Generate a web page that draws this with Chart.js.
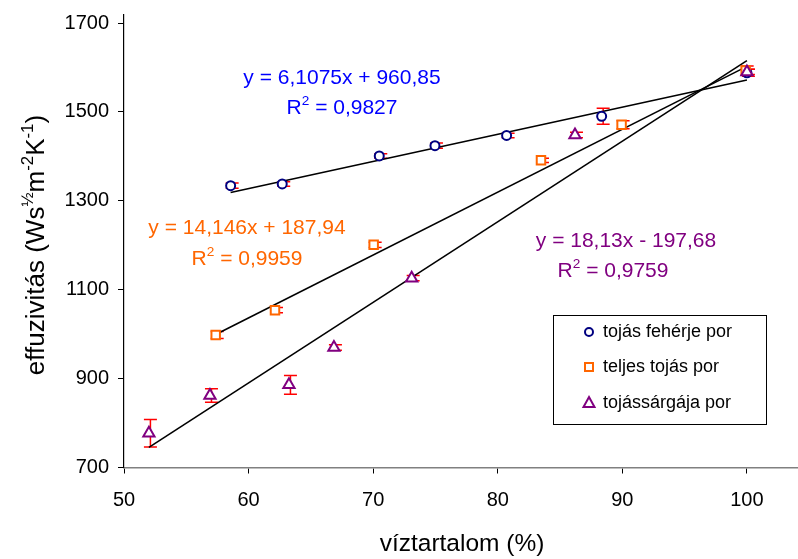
<!DOCTYPE html>
<html>
<head>
<meta charset="utf-8">
<script src="https://cdn.jsdelivr.net/npm/chart.js@4.4.1/dist/chart.umd.min.js"></script>
<style>
  html, body { margin: 0; padding: 0; background: #fff; }
  #wrap { width: 798px; height: 559px; }
</style>
</head>
<body>
<div id="wrap"><canvas id="c" width="798" height="559"></canvas></div>
<script>
// ---- data ----
const xTicks = [50, 60, 70, 80, 90, 100];
const yTicks = [700, 900, 1100, 1300, 1500, 1700];

const seriesNames = ['tojás fehérje por', 'teljes tojás por', 'tojássárgája por'];

const feherjeX   = [58.56, 62.7, 70.49, 74.96, 80.71, 88.34, 100.0];
const feherjeY   = [1334, 1338, 1401, 1424, 1447, 1490, 1588];
const feherjeErr = [6, 5, 5, 6, 5, 18, 8];

const teljesX   = [57.36, 62.12, 70.04, 83.47, 89.94, 99.9];
const teljesY   = [998, 1054, 1201, 1391, 1471, 1593];
const teljesErr = [8, 6, 6, 5, 9, 10];

const sargajaX   = [52.0, 56.9, 63.24, 66.85, 73.09, 86.2, 100.0];
const sargajaY   = [777, 862, 886, 970, 1126, 1448, 1590];
const sargajaErr = [31, 15, 21, 6, 6, 6, 6];

// trendline end points
const trendFeherjeX = [58.56, 100];
const trendFeherjeY = [1318.5, 1571.6];
const trendTeljesX  = [57.36, 100];
const trendTeljesY  = [999.3, 1602.5];
const trendSargajaX = [52, 100];
const trendSargajaY = [745.1, 1615.3];

const eqTexts = [
  { eq: 'y = 6,1075x + 960,85', r2: '0,9827' },
  { eq: 'y = 14,146x + 187,94', r2: '0,9959' },
  { eq: 'y = 18,13x - 197,68',  r2: '0,9759' }
];

// ---- styles ----
const FONT = '"Liberation Sans", Arial, sans-serif';
const colBlue = '#000080', colOrange = '#FF6600', colPurple = '#800080', colErr = '#FF0000';

function pts(xs, ys) { return xs.map((x, i) => ({ x: x, y: ys[i] })); }

const markerSets = [
  { label: seriesNames[0], data: pts(feherjeX, feherjeY), err: feherjeErr, pointStyle: 'circle', pointRadius: 4.5, borderColor: colBlue, order: 2 },
  { label: seriesNames[1], data: pts(teljesX, teljesY), err: teljesErr, pointStyle: 'rect', pointRadius: 6, borderColor: colOrange, order: 1 },
  { label: seriesNames[2], data: pts(sargajaX, sargajaY), err: sargajaErr, pointStyle: 'triangle', pointRadius: 6.5, borderColor: colPurple, order: 0 }
].map(d => Object.assign(d, {
  showLine: false, backgroundColor: '#ffffff', pointBorderWidth: 2, pointBackgroundColor: '#ffffff',
  pointBorderColor: d.borderColor, isMarker: true
}));

const lineSets = [
  pts(trendFeherjeX, trendFeherjeY),
  pts(trendTeljesX, trendTeljesY),
  pts(trendSargajaX, trendSargajaY)
].map(p => ({ data: p, showLine: true, pointRadius: 0, borderColor: '#000', borderWidth: 1.6, fill: false, order: 5 }));

// error bars drawn beneath everything
const errorBars = {
  id: 'errorBars',
  beforeDatasetsDraw(chart) {
    const ctx = chart.ctx, xs = chart.scales.x, ys = chart.scales.y;
    ctx.save();
    ctx.strokeStyle = colErr; ctx.lineWidth = 1.5;
    chart.data.datasets.forEach(ds => {
      if (!ds.isMarker) return;
      ds.data.forEach((p, i) => {
        const e = ds.err[i];
        const px = xs.getPixelForValue(p.x) + 1.5;
        const top = ys.getPixelForValue(p.y + e), bot = ys.getPixelForValue(p.y - e);
        const w = 6.5;
        ctx.beginPath();
        ctx.moveTo(px, top); ctx.lineTo(px, bot);
        ctx.moveTo(px - w, top); ctx.lineTo(px + w, top);
        ctx.moveTo(px - w, bot); ctx.lineTo(px + w, bot);
        ctx.stroke();
      });
    });
    ctx.restore();
  }
};

function richWidth(ctx, parts, size) {
  let w = 0;
  parts.forEach(p => { ctx.font = (p.sup ? size * 0.65 : size) + 'px ' + FONT; w += ctx.measureText(p.t).width; });
  return w;
}
function drawRich(ctx, parts, cx, y, size, color) {
  const w = richWidth(ctx, parts, size);
  let x = cx - w / 2;
  ctx.fillStyle = color; ctx.textAlign = 'left'; ctx.textBaseline = 'alphabetic';
  parts.forEach(p => {
    ctx.font = (p.sup ? size * 0.65 : size) + 'px ' + FONT;
    ctx.fillText(p.t, x, p.sup ? y - size * 0.42 : y);
    x += ctx.measureText(p.t).width;
  });
}

const texts = {
  id: 'texts',
  afterDraw(chart) {
    const ctx = chart.ctx;
    ctx.save();
    // equations
    const eqPos = [
      { x: 342, y: 84, ry: 114, c: '#0000FF' },
      { x: 247, y: 234, ry: 265, c: '#FF6600' },
      { x: 626, y: 247, ry: 277, rx: 613, c: '#800080' }
    ];
    eqTexts.forEach((t, i) => {
      const p = eqPos[i];
      drawRich(ctx, [{ t: t.eq }], p.x, p.y, 21, p.c);
      drawRich(ctx, [{ t: 'R' }, { t: '2', sup: true }, { t: ' = ' + t.r2 }], p.rx || p.x, p.ry, 21, p.c);
    });
    // x axis title
    drawRich(ctx, [{ t: 'víztartalom (%)' }], 462, 551, 24.5, '#000');
    // y axis title
    ctx.save();
    ctx.translate(44, 245);
    ctx.rotate(-Math.PI / 2);
    drawRich(ctx, [{ t: 'effuzivitás (Ws' }, { t: '½', sup: true }, { t: 'm' }, { t: '-2', sup: true }, { t: 'K' }, { t: '-1', sup: true }, { t: ')' }], 0, 0, 26, '#000');
    ctx.restore();
    // legend
    const lx = 553, ly = 315, lw = 213, lh = 109;
    ctx.fillStyle = '#fff'; ctx.fillRect(lx, ly, lw, lh);
    ctx.strokeStyle = '#000'; ctx.lineWidth = 1; ctx.strokeRect(lx + 0.5, ly + 0.5, lw, lh);
    const rows = [332, 367, 403];
    markerSets.forEach((ds, i) => {
      const mx = 589, my = rows[i];
      ctx.strokeStyle = ds.borderColor; ctx.lineWidth = 2; ctx.fillStyle = '#fff';
      ctx.beginPath();
      if (ds.pointStyle === 'circle') { ctx.arc(mx, my, 4, 0, Math.PI * 2); }
      else if (ds.pointStyle === 'rect') { ctx.rect(mx - 4, my - 4, 8, 8); }
      else { ctx.moveTo(mx, my - 6); ctx.lineTo(mx + 5.5, my + 4); ctx.lineTo(mx - 5.5, my + 4); ctx.closePath(); }
      ctx.fill(); ctx.stroke();
      ctx.fillStyle = '#000'; ctx.font = '18px ' + FONT; ctx.textAlign = 'left'; ctx.textBaseline = 'middle';
      ctx.fillText(ds.label, 603, my);
    });
    ctx.restore();
  }
};

new Chart(document.getElementById('c'), {
  type: 'scatter',
  data: { datasets: markerSets.concat(lineSets) },
  options: {
    responsive: false,
    animation: false,
    layout: { autoPadding: false, padding: { top: 15, right: 0, left: 0, bottom: 0 } },
    plugins: { legend: { display: false }, tooltip: { enabled: false } },
    scales: {
      x: {
        type: 'linear', min: 50, max: 104.1,
        afterBuildTicks: s => { s.ticks = xTicks.map(v => ({ value: v })); },
        afterFit: s => { s.height = 91.5; s.paddingLeft = 0; s.paddingRight = 0; },
        grid: { drawOnChartArea: false, drawTicks: true, tickLength: 6, color: '#000' },
        border: { display: true, color: '#808080', width: 1.5 },
        ticks: { font: { family: FONT, size: 20 }, color: '#000', padding: 15, maxRotation: 0, callback: v => String(v) }
      },
      y: {
        type: 'linear', min: 700, max: 1718,
        afterBuildTicks: s => { s.ticks = yTicks.map(v => ({ value: v })); },
        afterFit: s => { s.width = 124; s.paddingTop = 0; s.paddingBottom = 0; },
        grid: { drawOnChartArea: false, drawTicks: true, tickLength: 6, color: '#000' },
        border: { display: true, color: '#000', width: 1.2 },
        ticks: { font: { family: FONT, size: 20 }, color: '#000', padding: 9, callback: v => String(v) }
      }
    }
  },
  plugins: [errorBars, texts]
});
</script>
</body>
</html>
